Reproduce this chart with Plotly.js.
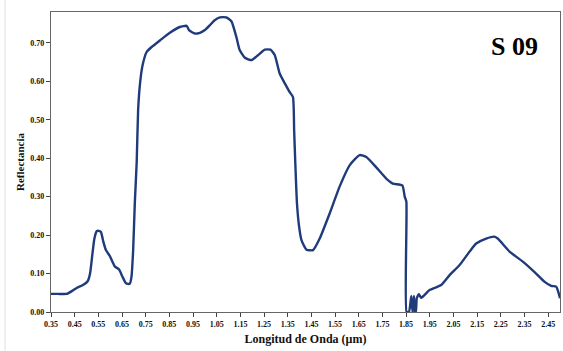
<!DOCTYPE html>
<html><head><meta charset="utf-8">
<script src="https://cdn.plot.ly/plotly-3.0.1.min.js"></script>
<style>html,body{margin:0;padding:0;background:#fff;}#chart{width:563px;height:351px;}</style>
</head><body><div id="chart"></div>
<script>
const wavelength = [0.35,0.38,0.416,0.44,0.463,0.485,0.505,0.515,0.522,0.533,0.543,0.552,0.561,0.571,0.582,0.599,0.61,0.62,0.637,0.651,0.666,0.675,0.683,0.69,0.697,0.704,0.712,0.718,0.726,0.737,0.754,0.775,0.81,0.852,0.894,0.923,0.934,0.958,0.979,1.00,1.02,1.04,1.063,1.09,1.112,1.133,1.147,1.169,1.197,1.225,1.253,1.277,1.295,1.316,1.337,1.358,1.372,1.377,1.382,1.389,1.398,1.408,1.429,1.457,1.485,1.527,1.569,1.612,1.654,1.682,1.724,1.766,1.794,1.834,1.844,1.851,1.852,1.862,1.872,1.877,1.883,1.887,1.891,1.895,1.904,1.914,1.949,1.998,2.034,2.076,2.118,2.146,2.188,2.223,2.237,2.287,2.343,2.399,2.434,2.463,2.484,2.494,2.5];
const reflectance = [0.047,0.047,0.047,0.055,0.064,0.07,0.08,0.1,0.135,0.19,0.21,0.211,0.208,0.183,0.161,0.145,0.13,0.118,0.111,0.093,0.075,0.073,0.074,0.092,0.161,0.283,0.39,0.525,0.594,0.642,0.676,0.689,0.706,0.726,0.741,0.744,0.732,0.724,0.726,0.733,0.745,0.758,0.766,0.766,0.756,0.715,0.681,0.661,0.655,0.668,0.682,0.682,0.668,0.62,0.595,0.572,0.559,0.473,0.386,0.282,0.222,0.187,0.162,0.161,0.191,0.256,0.326,0.382,0.408,0.403,0.376,0.347,0.334,0.329,0.30,0.287,0,0,0.042,0,0.042,0,0,0.036,0.046,0.037,0.057,0.07,0.096,0.122,0.157,0.178,0.191,0.196,0.191,0.157,0.131,0.10,0.079,0.068,0.066,0.05,0.036];
const xTicks = [0.35,0.45,0.55,0.65,0.75,0.85,0.95,1.05,1.15,1.25,1.35,1.45,1.55,1.65,1.75,1.85,1.95,2.05,2.15,2.25,2.35,2.45];
const yTicks = [0,0.1,0.2,0.3,0.4,0.5,0.6,0.7];
const sampleLabel = "S 09";

const serif = "Liberation Serif, Times New Roman, serif";
Plotly.newPlot('chart', [{
  x: wavelength, y: reflectance, type: 'scatter', mode: 'lines',
  line: {color: '#1f3b7c', width: 2.4, shape: 'spline', smoothing: 0.5}, hoverinfo: 'skip'
}], {
  width: 563, height: 351,
  margin: {l: 51, r: 3, t: 12, b: 39},
  paper_bgcolor: '#fff', plot_bgcolor: '#fff',
  showlegend: false,
  font: {family: serif, color: '#222'},
  xaxis: {
    range: [0.35, 2.5], tickvals: xTicks, ticktext: xTicks.map(v => v.toFixed(2)),
    ticks: 'outside', ticklen: 4, tickcolor: '#444', tickwidth: 1,
    showgrid: false, zeroline: false, showline: true, linecolor: '#666', linewidth: 1.2, mirror: true,
    tickfont: {family: serif, size: 8, color: '#111', weight: 'bold'},
    title: {text: 'Longitud de Onda (µm)', font: {family: serif, size: 12, color: '#111', weight: 'bold'}, standoff: 6}
  },
  yaxis: {
    range: [0, 0.78], tickvals: yTicks, ticktext: yTicks.map(v => v.toFixed(2)),
    ticks: 'outside', ticklen: 4, tickcolor: '#444', tickwidth: 1,
    showgrid: false, zeroline: false, showline: true, linecolor: '#666', linewidth: 1.2, mirror: true,
    tickfont: {family: serif, size: 8, color: '#111', weight: 'bold'},
    title: {text: 'Reflectancia', font: {family: serif, size: 11, color: '#111', weight: 'bold'}, standoff: 3}
  },
  annotations: [{
    text: sampleLabel, xref: 'paper', yref: 'paper', x: 0.91, y: 0.885,
    xanchor: 'center', yanchor: 'middle', showarrow: false,
    font: {family: serif, size: 26, color: '#000', weight: 'bold'}
  }],
  shapes: [{
    type: 'line', xref: 'paper', yref: 'paper', x0: -0.0903, x1: -0.0903, y0: -0.13, y1: 1.04,
    line: {color: '#e2e2e2', width: 1}
  }]
}, {staticPlot: true, displayModeBar: false});
</script></body></html>
